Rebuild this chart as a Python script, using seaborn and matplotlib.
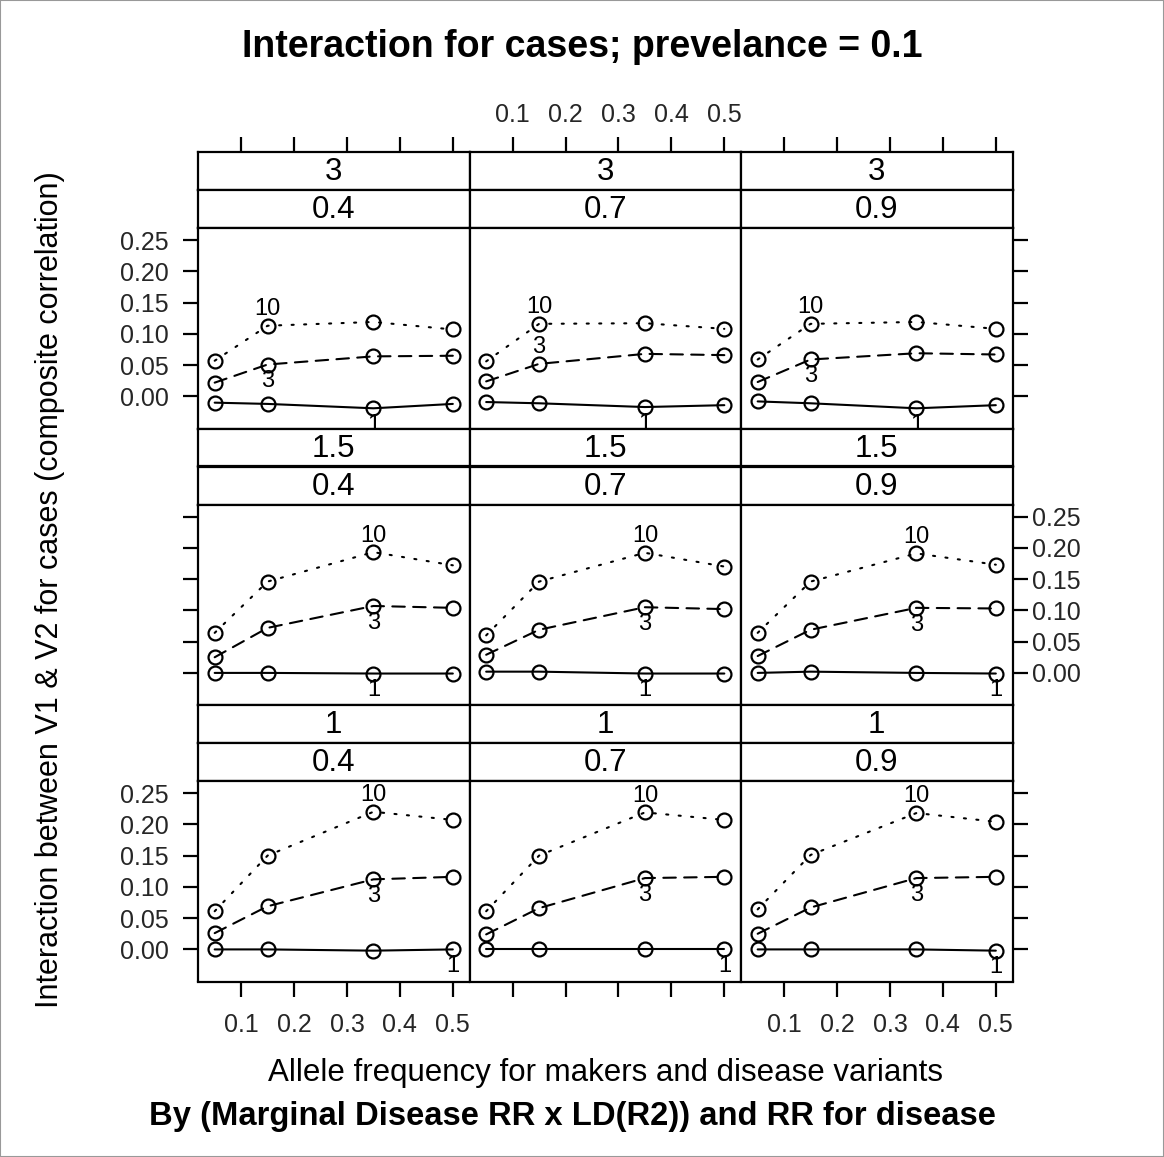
import numpy as np
import pandas as pd
import matplotlib
matplotlib.use("Agg")
import matplotlib.pyplot as plt
from matplotlib.patches import Rectangle
import seaborn as sns

# ---------------- data ----------------
freq = [0.05, 0.15, 0.35, 0.5]
outer_rr = ["3", "1.5", "1"]          # top strip (rows, top to bottom)
ld_r2 = ["0.4", "0.7", "0.9"]         # second strip (columns)
series_names = ["1", "3", "10"]
xtick_vals = [0.1, 0.2, 0.3, 0.4, 0.5]
ytick_vals = [0.00, 0.05, 0.10, 0.15, 0.20, 0.25]

# panels ordered row by row: (3,0.4),(3,0.7),(3,0.9),(1.5,0.4),...,(1,0.9)
corr_rr1 = [
    [-0.010, -0.012, -0.019, -0.012],
    [-0.009, -0.011, -0.017, -0.014],
    [-0.008, -0.011, -0.019, -0.014],
    [0.000, 0.000, -0.001, -0.001],
    [0.002, 0.002, -0.001, -0.001],
    [0.000, 0.002, 0.000, -0.001],
    [0.000, 0.000, -0.002, 0.000],
    [0.000, 0.000, 0.000, 0.000],
    [0.000, 0.000, 0.000, -0.002],
]
corr_rr3 = [
    [0.022, 0.051, 0.064, 0.065],
    [0.024, 0.052, 0.068, 0.066],
    [0.023, 0.059, 0.069, 0.067],
    [0.025, 0.072, 0.107, 0.104],
    [0.029, 0.069, 0.105, 0.102],
    [0.027, 0.069, 0.104, 0.103],
    [0.026, 0.069, 0.112, 0.116],
    [0.024, 0.066, 0.114, 0.116],
    [0.025, 0.067, 0.114, 0.116],
]
corr_rr10 = [
    [0.057, 0.113, 0.119, 0.107],
    [0.056, 0.116, 0.117, 0.108],
    [0.059, 0.116, 0.119, 0.108],
    [0.064, 0.146, 0.193, 0.172],
    [0.060, 0.146, 0.192, 0.170],
    [0.064, 0.146, 0.191, 0.173],
    [0.061, 0.150, 0.220, 0.207],
    [0.061, 0.150, 0.219, 0.207],
    [0.064, 0.151, 0.218, 0.204],
]
# direct-label placement per panel: series -> (point index, side)
label_pts = [
    {"10": (1, 1), "3": (1, -1), "1": (2, -1)},
    {"10": (1, 1), "3": (1, 1), "1": (2, -1)},
    {"10": (1, 1), "3": (1, -1), "1": (2, -1)},
    {"10": (2, 1), "3": (2, -1), "1": (2, -1)},
    {"10": (2, 1), "3": (2, -1), "1": (2, -1)},
    {"10": (2, 1), "3": (2, -1), "1": (3, -1)},
    {"10": (2, 1), "3": (2, -1), "1": (3, -1)},
    {"10": (2, 1), "3": (2, -1), "1": (3, -1)},
    {"10": (2, 1), "3": (2, -1), "1": (3, -1)},
]

rows = []
for p in range(9):
    for s, arr in zip(series_names, [corr_rr1, corr_rr3, corr_rr10]):
        for f, v in zip(freq, arr[p]):
            rows.append({"panel": p, "rr": s, "freq": f, "corr": v})
df = pd.DataFrame(rows)

# ---------------- styling ----------------
sns.set_theme(style="white")
plt.rcParams["font.family"] = ["Liberation Sans", "DejaVu Sans"]

W, H = 1164, 1157
fig = plt.figure(figsize=(W / 100, H / 100), dpi=100)
fig.patch.set_facecolor("white")


def fx(px):
    return px / W


def fy(py):
    return 1 - py / H


col_left = [198, 469.5, 741]
col_w = 271.5
block_top = [152, 428.5, 705]
strip_h = 38
panel_h = 200.5

rng = max(freq) - min(freq)
xlim = (min(freq) - 0.07 * rng, max(freq) + 0.07 * rng)
ylim = (-0.0513, 0.2692)

line_styles = {"1": "-", "3": (0, (6, 4)), "10": (0, (1, 5))}
SPW = 1.6
TICKLEN = 11
TICKFS = 18
STRIPFS = 22.5


def style_spines(ax):
    for sp in ax.spines.values():
        sp.set_color("black")
        sp.set_linewidth(SPW)
        sp.set_visible(True)


for r in range(3):
    for c in range(3):
        p = r * 3 + c
        left = col_left[c]
        top = block_top[r]
        # strips
        for k, txt in enumerate([outer_rr[r], ld_r2[c]]):
            sax = fig.add_axes([fx(left), fy(top + (k + 1) * strip_h), col_w / W, strip_h / H])
            sax.set_facecolor("white")
            sax.set_xlim(xlim)
            sax.set_ylim(0, 1)
            style_spines(sax)
            sax.text(0.5, 0.47, txt, transform=sax.transAxes, ha="center", va="center",
                     fontsize=STRIPFS, color="black")
            sax.set_yticks([])
            if r == 0 and k == 0:
                sax.xaxis.tick_top()
                sax.set_xticks(xtick_vals)
                sax.set_xticklabels([f"{v:.1f}" for v in xtick_vals])
                sax.tick_params(axis="x", top=True, bottom=False, direction="out",
                                length=TICKLEN, width=SPW, color="black",
                                labeltop=(c == 1), labelbottom=False,
                                labelsize=TICKFS, pad=7)
            else:
                sax.set_xticks([])
        # panel
        ax = fig.add_axes([fx(left), fy(top + 2 * strip_h + panel_h), col_w / W, panel_h / H])
        ax.set_facecolor("white")
        sub = df[df["panel"] == p]
        for s in series_names:
            d = sub[sub["rr"] == s]
            sns.lineplot(data=d, x="freq", y="corr", ax=ax, color="black",
                         linestyle=line_styles[s], linewidth=1.5,
                         marker="o", markersize=10, markerfacecolor="none",
                         markeredgecolor="black", markeredgewidth=1.6,
                         errorbar=None, legend=False, dash_capstyle="round")
            idx, side = label_pts[p][s]
            xv = d["freq"].values[idx]
            yv = d["corr"].values[idx]
            ax.annotate(s, (xv, yv), xytext=(0, side * 12), textcoords="offset points",
                        ha="center", va="center", fontsize=17, color="black",
                        annotation_clip=False, clip_on=True)
        ax.set_xlim(xlim)
        ax.set_ylim(ylim)
        ax.set_xlabel("")
        ax.set_ylabel("")
        style_spines(ax)
        ax.set_yticks(ytick_vals)
        ax.set_yticklabels([f"{v:.2f}" for v in ytick_vals])
        ax.yaxis.set_ticks_position("both")
        ax.tick_params(axis="y", direction="out", length=TICKLEN, width=SPW, color="black",
                       left=(c == 0), right=(c == 2),
                       labelleft=(c == 0 and r != 1), labelright=(c == 2 and r == 1),
                       labelsize=TICKFS, pad=10)
        if c == 2 and r == 1:
            ax.tick_params(axis="y", which="both", pad=3)
        if r == 2:
            ax.set_xticks(xtick_vals)
            ax.set_xticklabels([f"{v:.1f}" for v in xtick_vals])
            ax.tick_params(axis="x", direction="out", length=TICKLEN, width=SPW, color="black",
                           bottom=True, top=False, labelbottom=(c != 1),
                           labelsize=TICKFS, pad=12)
        else:
            ax.set_xticks([])

fig.text(fx(582), fy(47), "Interaction for cases; prevelance = 0.1", ha="center", va="center",
         fontsize=27, fontweight="bold", color="black")
fig.text(fx(606), fy(1073), "Allele frequency for makers and disease variants", ha="center",
         va="center", fontsize=22.5, color="black")
fig.text(fx(572), fy(1117), "By (Marginal Disease RR x LD(R2)) and RR for disease", ha="center",
         va="center", fontsize=23.6, fontweight="bold", color="black")
fig.text(fx(50), fy(590), "Interaction between V1 & V2 for cases (composite correlation)",
         rotation=90, ha="center", va="center", fontsize=22, color="black")

fig.add_artist(Rectangle((0, 0), 1, 1, transform=fig.transFigure, fill=False,
                         edgecolor="#999999", linewidth=1.5))

fig.savefig("out.png", dpi=100, facecolor="white")
